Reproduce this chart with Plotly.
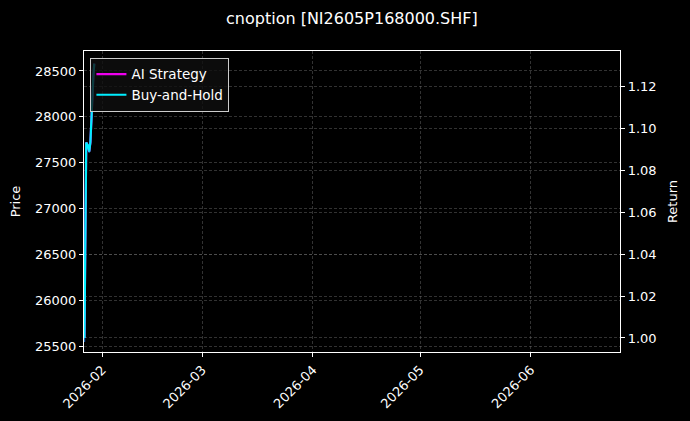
import plotly.graph_objects as go

# data (hourly-ish points at the start of the window)
times = [
    "2026-01-27 00:00", "2026-01-27 12:00", "2026-01-28 00:00", "2026-01-28 08:00",
    "2026-01-28 16:00", "2026-01-29 00:00", "2026-01-29 12:00", "2026-01-29 18:00",
]
price = [25545, 27720, 27690, 27610, 27700, 28050, 28420, 28560]
ai_return = [1.000, 1.0933, 1.0918, 1.0890, 1.0935, 1.1080, 1.1250, 1.1310]
bh_return = [1.000, 1.0933, 1.0918, 1.0890, 1.0935, 1.1080, 1.1250, 1.1310]

title = "cnoption [NI2605P168000.SHF]"
font = "DejaVu Sans"
grid = "rgba(110,110,110,0.45)"

fig = go.Figure()
fig.add_trace(go.Scatter(x=times, y=price, mode="lines", name="Price",
                         line=dict(color="rgba(30,144,255,0.7)", width=1.5),
                         showlegend=False, yaxis="y"))
fig.add_trace(go.Scatter(x=times, y=ai_return, mode="lines", name="AI Strategy",
                         line=dict(color="#ee00ee", width=2.2), yaxis="y2"))
fig.add_trace(go.Scatter(x=times, y=bh_return, mode="lines", name="Buy-and-Hold",
                         line=dict(color="#00eeff", width=2.2), yaxis="y2"))

axis_common = dict(
    showline=True, linecolor="white", linewidth=1.2,
    ticks="outside", ticklen=4, tickcolor="white",
    tickfont=dict(family=font, size=13, color="white"),
    showgrid=True, gridcolor=grid, griddash="3px,2px", gridwidth=0.6,
    zeroline=False, automargin=False,
)

fig.update_layout(
    width=690, height=421,
    paper_bgcolor="#000000", plot_bgcolor="#000000",
    margin=dict(l=84, r=70, t=51, b=69),
    title=dict(text=title, x=0.51, xanchor="center", y=0.957, yanchor="middle",
               font=dict(family=font, size=16, color="white")),
    xaxis=dict(
        **axis_common, mirror=True,
        range=["2026-01-26 21:00", "2026-06-26 00:00"],
        tick0="2026-02-01", dtick="M1", tickformat="%Y-%m", tickangle=-45,
    ),
    yaxis=dict(
        **axis_common,
        range=[25435, 28718], tick0=25500, dtick=500, tickformat="d",
        title=dict(text="Price", font=dict(family=font, size=13, color="white"), standoff=11),
    ),
    yaxis2=dict(
        **axis_common, overlaying="y", side="right",
        range=[0.9933, 1.137], tick0=1.0, dtick=0.02, tickformat=".2f",
        title=dict(text="Return", font=dict(family=font, size=13, color="white"), standoff=12),
    ),
    legend=dict(
        x=0.012, y=0.977, xanchor="left", yanchor="top",
        bgcolor="rgba(15,15,15,0.8)", bordercolor="#cccccc", borderwidth=1,
        font=dict(family=font, size=13.5, color="white"),
        tracegroupgap=0,
    ),
    showlegend=True,
)

# drop the default page margin so the figure fills the window
page_css = "document.body.style.margin='0';document.body.style.background='#000';"
fig.write_html("out.html", post_script=page_css, config={"displayModeBar": False})
